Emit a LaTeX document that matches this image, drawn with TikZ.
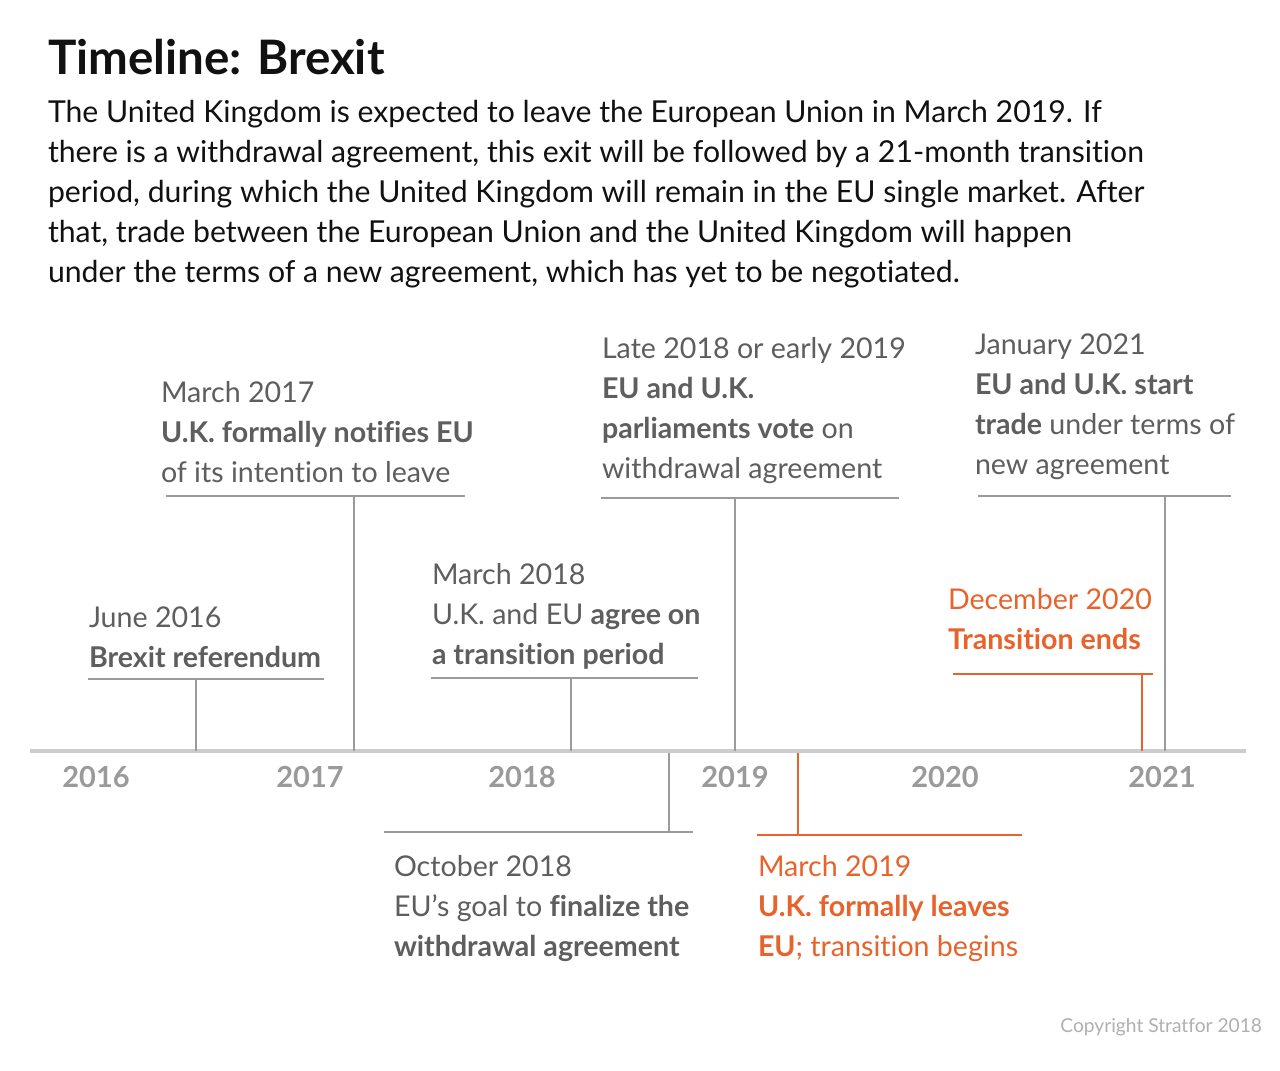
\documentclass[tikz,border=0pt]{standalone}
\usepackage{fontspec}
\setmainfont{Lato}[Ligatures={NoCommon}]
\usepackage{xcolor}
\usepackage{tikz}
\usetikzlibrary{positioning}
\definecolor{ink}{HTML}{111111}
\definecolor{labgray}{HTML}{5E5E5E}
\definecolor{rulegray}{HTML}{9B9B9B}
\definecolor{axisgray}{HTML}{CCCCCC}
\definecolor{yeargray}{HTML}{9A9A9A}
\definecolor{brand}{HTML}{E8632B}
\definecolor{faint}{HTML}{B0B0B0}

\begin{document}
\begin{tikzpicture}[x=1pt,y=-1pt,every node/.style={inner sep=0pt,outer sep=0pt},
  lab/.style={anchor=north west,align=left,text=labgray,font=\fontsize{28.6}{40}\selectfont},
  hot/.style={lab,text=brand},
  yr/.style={anchor=base,text=yeargray,font=\fontsize{29}{34}\selectfont\bfseries},
  rl/.style={draw=rulegray,line width=1.6pt},
  rh/.style={draw=brand,line width=1.8pt}]
  \useasboundingbox[fill=white] (0,0) rectangle (1280,1071);
  % heading
  \node[anchor=north west,text=ink,font=\fontsize{47.5}{56}\selectfont\bfseries] (title) at (48,39) {Timeline: Brexit};
  \node[anchor=north west,align=left,text=ink,font=\fontsize{30.2}{40}\selectfont] (intro) at (48,100)
    {The United Kingdom is expected to leave the European Union in March 2019. If\\
     there is a withdrawal agreement, this exit will be followed by a 21-month transition\\
     period, during which the United Kingdom will remain in the EU single market. After\\
     that, trade between the European Union and the United Kingdom will happen\\
     under the terms of a new agreement, which has yet to be negotiated.};
  % axis and years
  \coordinate (axl) at (30,751); \coordinate (axr) at (1246,751);
  \draw[draw=axisgray,line width=4pt] (axl) -- (axr);
  \node[yr] (y16) at (96,787) {2016}; \node[yr] (y17) at (310,787) {2017}; \node[yr] (y18) at (522,787) {2018};
  \node[yr] (y19) at (735,787) {2019}; \node[yr] (y20) at (945,787) {2020}; \node[yr] (y21) at (1162,787) {2021};
  % events above the axis
  \node[lab] (jun16) at (89,607) {June 2016\\\textbf{Brexit referendum}};
  \coordinate (a1l) at (88,679); \coordinate (a1r) at (324,679); \coordinate (a1m) at (196,679); \coordinate (a1x) at (196,751);
  \draw[rl] (a1l) -- (a1r) (a1m) -- (a1x);
  \node[lab] (mar17) at (161,381) {March 2017\\\textbf{U.K. formally notifies EU}\\of its intention to leave};
  \coordinate (a2l) at (166,496); \coordinate (a2r) at (465,496); \coordinate (a2m) at (354,496); \coordinate (a2x) at (354,751);
  \draw[rl] (a2l) -- (a2r) (a2m) -- (a2x);
  \node[lab] (mar18) at (432,563) {March 2018\\U.K. and EU \textbf{agree on}\\\textbf{a transition period}};
  \coordinate (a3l) at (431,678); \coordinate (a3r) at (698,678); \coordinate (a3m) at (571,678); \coordinate (a3x) at (571,751);
  \draw[rl] (a3l) -- (a3r) (a3m) -- (a3x);
  \node[lab] (late18) at (602,337) {Late 2018 or early 2019\\\textbf{EU and U.K.}\\\textbf{parliaments vote} on\\withdrawal agreement};
  \coordinate (a4l) at (601,498); \coordinate (a4r) at (899,498); \coordinate (a4m) at (735,498); \coordinate (a4x) at (735,751);
  \draw[rl] (a4l) -- (a4r) (a4m) -- (a4x);
  \node[lab] (jan21) at (975,334) {January 2021\\\textbf{EU and U.K. start}\\\textbf{trade} under terms of\\new agreement};
  \coordinate (a5l) at (978,496); \coordinate (a5r) at (1231,496); \coordinate (a5m) at (1165,496); \coordinate (a5x) at (1165,751);
  \draw[rl] (a5l) -- (a5r) (a5m) -- (a5x);
  \node[hot] (dec20) at (948,588) {December 2020\\\textbf{Transition ends}};
  \coordinate (a6l) at (953,674); \coordinate (a6r) at (1153,674); \coordinate (a6m) at (1142,674); \coordinate (a6x) at (1142,751);
  \draw[rh] (a6l) -- (a6r) (a6m) -- (a6x);
  % events below the axis
  \coordinate (b1x) at (669,753); \coordinate (b1m) at (669,832); \coordinate (b1l) at (384,832); \coordinate (b1r) at (693,832);
  \draw[rl] (b1x) -- (b1m) (b1l) -- (b1r);
  \node[lab] (oct18) at (394,855) {October 2018\\EU’s goal to \textbf{finalize the}\\\textbf{withdrawal agreement}};
  \coordinate (b2x) at (798,753); \coordinate (b2m) at (798,835); \coordinate (b2l) at (757,835); \coordinate (b2r) at (1022,835);
  \draw[rh] (b2x) -- (b2m) (b2l) -- (b2r);
  \node[hot] (mar19) at (758,855) {March 2019\\\textbf{U.K. formally leaves}\\\textbf{EU}; transition begins};
  \node[anchor=base east,text=faint,font=\fontsize{19.2}{24}\selectfont] (copy) at (1262,1032) {Copyright Stratfor 2018};
\end{tikzpicture}
\end{document}
